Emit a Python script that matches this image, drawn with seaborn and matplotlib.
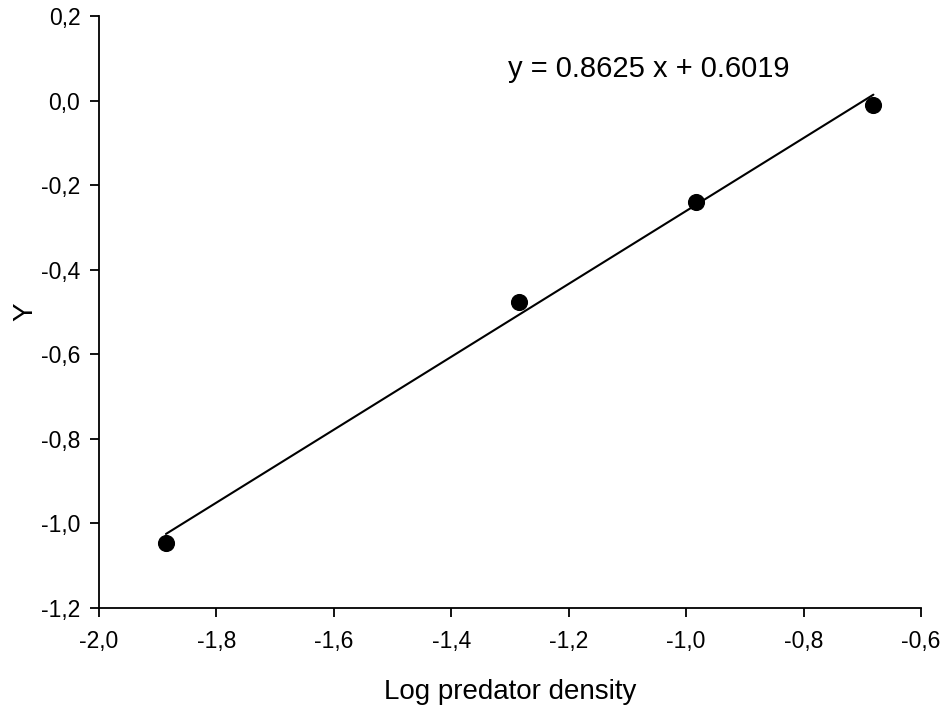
import numpy as np
import pandas as pd
import seaborn as sns
import matplotlib.pyplot as plt
from matplotlib.ticker import FuncFormatter

# datos
log_densidad = [-1.886, -1.284, -0.983, -0.681]
valor_y = [-1.045, -0.475, -0.239, -0.011]
pendiente = 0.8625
intercepto = 0.6019

xticks = [-2.0, -1.8, -1.6, -1.4, -1.2, -1.0, -0.8, -0.6]
yticks = [-1.2, -1.0, -0.8, -0.6, -0.4, -0.2, 0.0, 0.2]

df = pd.DataFrame({"x": log_densidad, "y": valor_y})
x_linea = np.array([min(log_densidad), max(log_densidad)])
df_linea = pd.DataFrame({"x": x_linea, "y": pendiente * x_linea + intercepto})

sns.set_style("ticks")
plt.rcParams["font.family"] = ["Liberation Sans", "DejaVu Sans"]
plt.rcParams["text.color"] = "black"
plt.rcParams["axes.labelcolor"] = "black"

fig = plt.figure(figsize=(9.44, 7.07), dpi=100)
ax = fig.add_axes([0.1049, 0.14, 0.8707, 0.837])

sns.lineplot(data=df_linea, x="x", y="y", ax=ax, color="black", linewidth=1.5)
sns.scatterplot(data=df, x="x", y="y", ax=ax, color="black", s=130,
                edgecolor="black", zorder=3)

ax.set_xlim(-2.0, -0.6)
ax.set_ylim(-1.2, 0.2)
ax.set_xticks(xticks)
ax.set_yticks(yticks)
coma = FuncFormatter(lambda v, p: f"{v:.1f}".replace(".", ","))
ax.xaxis.set_major_formatter(coma)
ax.yaxis.set_major_formatter(coma)
ax.tick_params(direction="out", length=6.5, width=1.3, labelsize=16.5,
               colors="black")
ax.tick_params(axis="x", pad=9)
ax.tick_params(axis="y", pad=7)
for lado in ["left", "bottom"]:
    ax.spines[lado].set_linewidth(1.3)
    ax.spines[lado].set_color("black")
sns.despine(ax=ax)

ax.set_xlabel("Log predator density", fontsize=20, labelpad=19)
ax.set_ylabel("Y", fontsize=20)
ax.yaxis.set_label_coords(-0.074, 0.5)

ax.text(-1.303, 0.076, f"y = {pendiente} x + {intercepto}", fontsize=21,
        va="center", ha="left")

fig.savefig("out.png", dpi=100)
